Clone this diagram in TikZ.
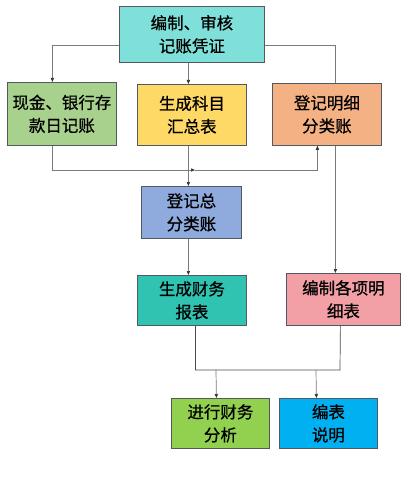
\documentclass[tikz,border=0pt]{standalone}
\usepackage{fontspec}
\setmainfont{Noto Sans CJK SC}[FakeBold=0.6]
\usetikzlibrary{arrows.meta,backgrounds}
\definecolor{cTop}{HTML}{7FE0D9}
\definecolor{cL}{HTML}{A9D18E}
\definecolor{cY}{HTML}{FFD966}
\definecolor{cO}{HTML}{F4B183}
\definecolor{cB}{HTML}{8FAADC}
\definecolor{cT}{HTML}{30C3B2}
\definecolor{cP}{HTML}{F2A0A6}
\definecolor{cG}{HTML}{92D050}
\definecolor{cS}{HTML}{00B0F0}
\definecolor{lineg}{HTML}{7A7A7A}
\definecolor{boxb}{HTML}{505A60}
\tikzset{
  box/.style={draw=boxb,line width=0.8pt,anchor=north west,inner sep=0pt,
    align=center,font=\fontsize{16.5}{23}\selectfont,text=black},
  conn/.style={draw=lineg,line width=0.7pt},
  arr/.style={conn,-{Triangle[length=4pt,width=3.2pt,color=black!80]}},
}
\begin{document}
\begin{tikzpicture}[x=1pt,y=-1pt]
\useasboundingbox (0,0) rectangle (415,484);
\node[box,fill=cTop,minimum width=145pt,minimum height=56pt] (top) at (119,6) {编制、审核\\记账凭证};
\node[box,fill=cL,minimum width=109pt,minimum height=63pt] (L) at (7,82) {现金、银行存\\款日记账};
\node[box,fill=cY,minimum width=109pt,minimum height=61pt] (Y) at (137,84) {生成科目\\汇总表};
\node[box,fill=cO,minimum width=109pt,minimum height=62pt] (O) at (272,83) {登记明细\\分类账};
\node[box,fill=cB,minimum width=100pt,minimum height=52pt] (B) at (141,186) {登记总\\分类账};
\node[box,fill=cT,minimum width=109pt,minimum height=50pt] (T) at (137,275) {生成财务\\报表};
\node[box,fill=cP,minimum width=114pt,minimum height=52pt] (P) at (286,273) {编制各项明\\细表};
\node[box,fill=cG,minimum width=98pt,minimum height=50pt] (G) at (171,398) {进行财务\\分析};
\node[box,fill=cS,minimum width=98pt,minimum height=50pt] (S) at (279,398) {编表\\说明};
\coordinate (j1) at (195,170);
\coordinate (j2) at (340,370);
\coordinate (j3) at (216,370);
\coordinate (j4) at (316,370);
\begin{pgfonlayer}{background}
\draw[arr] ([yshift=-11pt]top.west) -| ([xshift=-9.5pt]L.north);
\draw[arr] ([xshift=-3.5pt]top.south) -- ([xshift=-3.5pt]Y.north);
\draw[arr] ([yshift=-11pt]top.east) -| ([xshift=-8pt]P.north);
\draw[arr] ([xshift=-9.5pt]L.south) |- (j1);
\draw[arr] (j1) -| ([xshift=-9.5pt]O.south);
\draw[arr] ([xshift=-3.5pt]Y.south) -- ([xshift=-3pt]B.north);
\draw[arr] ([xshift=-3pt]B.south) -- ([xshift=-3.5pt]T.north);
\draw[conn,draw=black!70] ([xshift=3.5pt]T.south) |- (j2) -- ([xshift=-3pt]P.south);
\draw[arr] (j3) -- ([xshift=-4pt]G.north);
\draw[arr] (j4) -- ([xshift=-12pt]S.north);
\end{pgfonlayer}
\end{tikzpicture}
\end{document}
